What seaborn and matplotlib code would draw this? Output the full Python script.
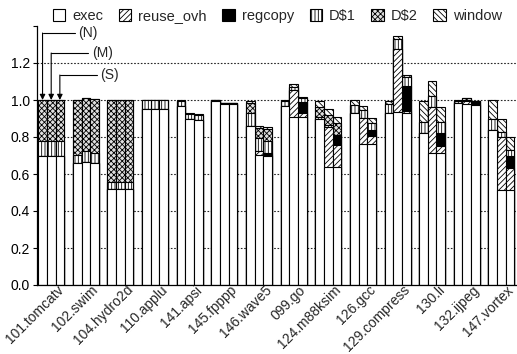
import numpy as np
import pandas as pd
import matplotlib
matplotlib.use("Agg")
import matplotlib.pyplot as plt
from matplotlib.patches import Patch
from matplotlib.transforms import ScaledTranslation
import seaborn as sns

# ---------------- data ----------------
benchmarks = ['101.tomcatv', '102.swim', '104.hydro2d', '110.applu', '141.apsi',
              '145.fpppp', '146.wave5', '099.go', '124.m88ksim', '126.gcc',
              '129.compress', '130.li', '132.ijpeg', '147.vortex']
configs = ['N', 'M', 'S']
components = ['exec', 'reuse_ovh', 'regcopy', 'D$1', 'D$2', 'window']

# each row: one benchmark, values for (N, M, S)
exec_vals = [[0.70, 0.70, 0.70], [0.66, 0.667, 0.66], [0.52, 0.52, 0.52],
             [0.95, 0.95, 0.95], [0.965, 0.895, 0.89], [0.995, 0.978, 0.978],
             [0.86, 0.703, 0.70], [0.97, 0.91, 0.91], [0.895, 0.64, 0.64],
             [0.93, 0.76, 0.76], [0.93, 0.935, 0.928], [0.82, 0.712, 0.712],
             [0.985, 0.98, 0.975], [0.84, 0.515, 0.515]]
reuse_vals = [[0, 0, 0], [0, 0, 0], [0, 0, 0],
              [0, 0, 0], [0, 0, 0], [0, 0, 0],
              [0, 0.023, 0.005], [0, 0.145, 0.02], [0, 0.216, 0.115],
              [0, 0.145, 0.043], [0, 0.343, 0.014], [0, 0.248, 0.039],
              [0, 0.012, 0.005], [0, 0.283, 0.118]]
regcopy_vals = [[0, 0, 0], [0, 0, 0], [0, 0, 0],
                [0, 0, 0], [0, 0, 0], [0, 0.008, 0.008],
                [0, 0, 0.01], [0, 0, 0.06], [0, 0, 0.055],
                [0, 0, 0.033], [0, 0, 0.131], [0, 0, 0.073],
                [0, 0, 0.012], [0, 0, 0.067]]
d1_vals = [[0.08, 0.08, 0.08], [0.045, 0.06, 0.055], [0.035, 0.035, 0.035],
           [0.05, 0.05, 0.05], [0.027, 0.028, 0.03], [0.005, 0, 0],
           [0.068, 0.067, 0.062], [0.023, 0.017, 0.02], [0.015, 0.009, 0],
           [0.043, 0.04, 0.04], [0.047, 0.05, 0.049], [0.063, 0.062, 0.059],
           [0.01, 0.008, 0], [0.056, 0.031, 0.03]]
d2_vals = [[0.22, 0.22, 0.22], [0.295, 0.283, 0.29], [0.445, 0.445, 0.445],
           [0, 0, 0], [0, 0, 0], [0, 0, 0],
           [0.054, 0.054, 0.065], [0, 0, 0], [0.05, 0.054, 0.063],
           [0, 0, 0], [0, 0, 0], [0, 0, 0],
           [0, 0.012, 0], [0, 0, 0]]
window_vals = [[0, 0, 0], [0, 0, 0], [0, 0, 0],
               [0, 0, 0], [0.006, 0.005, 0.004], [0, 0, 0],
               [0.014, 0.014, 0.014], [0.005, 0.015, 0.005], [0.036, 0.031, 0.033],
               [0.027, 0.02, 0.024], [0.02, 0.018, 0.013], [0.113, 0.083, 0.081],
               [0.005, 0, 0.003], [0.104, 0.067, 0.068]]

ytick_vals = [0.0, 0.2, 0.4, 0.6, 0.8, 1.0, 1.2]
ytick_labels = ['0.0', '0.2', '0.4', '0.6', '0.8', '1.0', '1.2']

# ---------------- long table ----------------
rows = []
for i, b in enumerate(benchmarks):
    for j, c in enumerate(configs):
        rows.append({'benchmark': b, 'config': c,
                     'exec': exec_vals[i][j], 'reuse_ovh': reuse_vals[i][j],
                     'regcopy': regcopy_vals[i][j], 'D$1': d1_vals[i][j],
                     'D$2': d2_vals[i][j], 'window': window_vals[i][j]})
df = pd.DataFrame(rows)
cum = df[components].cumsum(axis=1)
for comp in components:
    df['cum_' + comp] = cum[comp]

# ---------------- style ----------------
sns.set_theme(style='ticks')
plt.rcParams['font.family'] = ['Liberation Sans', 'DejaVu Sans']
plt.rcParams['hatch.linewidth'] = 0.6

styles = {
    'exec': ('white', ''),
    'reuse_ovh': ('white', '//////'),
    'regcopy': ('black', ''),
    'D$1': ('white', '|||||'),
    'D$2': ('0.88', 'xxxxxx'),
    'window': ('white', '\\\\\\\\\\\\'),
}

fig = plt.figure(figsize=(5.17, 3.54), dpi=100)
ax = fig.add_axes([37 / 517, 69 / 354, 480 / 517, 259 / 354])

for y in ytick_vals[1:]:
    ax.axhline(y, color='0.15', lw=0.8, ls=(0, (1.5, 1.5)), zorder=0)

for comp in reversed(components):
    face, hatch = styles[comp]
    sns.barplot(data=df, x='benchmark', y='cum_' + comp, hue='config',
                hue_order=configs, order=benchmarks, palette=[face] * 3,
                saturation=1, width=0.75, errorbar=None, legend=False,
                edgecolor='black', linewidth=0.8, hatch=hatch, ax=ax)

ax.set_xlim(-0.41, 13.45)
ax.set_ylim(0, 1.4)
ax.set_yticks(ytick_vals + [1.4])
ax.set_yticklabels(ytick_labels + [''], fontsize=10)
ax.set_xlabel('')
ax.set_ylabel('')
ax.set_xticks(range(len(benchmarks)))
ax.set_xticklabels(benchmarks, rotation=45, ha='right', va='baseline',
                   rotation_mode='anchor', fontsize=10)
ax.tick_params(axis='x', length=0, pad=4)
ax.tick_params(axis='y', length=3, width=0.8, pad=2, colors='black')
off = ScaledTranslation(13 / 100, 0, fig.dpi_scale_trans)
for lab in ax.get_xticklabels():
    lab.set_transform(lab.get_transform() + off)
for s in ['top', 'right']:
    ax.spines[s].set_visible(False)
for s in ['left', 'bottom']:
    ax.spines[s].set_color('black')
    ax.spines[s].set_linewidth(0.9)

# (N) (M) (S) pointers
pointers = [('(N)', -0.25, 1.362, 0.69, 0.78),
            ('(M)', 0.0, 1.254, 1.07, 1.18),
            ('(S)', 0.25, 1.135, 1.33, 1.41)]
for lab, xb, yl, xe, xt in pointers:
    ax.annotate('', xy=(xb, 1.0), xytext=(xb, yl),
                arrowprops=dict(arrowstyle='-|>', color='black', lw=0.8,
                                mutation_scale=8, shrinkA=0, shrinkB=0))
    ax.plot([xb, xe], [yl, yl], color='black', lw=0.8)
    ax.text(xt, yl, lab, ha='left', va='center', fontsize=10)

handles = [Patch(facecolor=styles[c][0], edgecolor='black', hatch=styles[c][1],
                 linewidth=0.8) for c in components]
fig.legend(handles, components, loc='upper left', bbox_to_anchor=(44 / 517, 1.0),
           ncol=6, frameon=False, fontsize=10.5, handlelength=0.85, handleheight=0.85,
           handletextpad=0.5, columnspacing=1.05, borderaxespad=0.2)

fig.savefig('out.png', dpi=100)
